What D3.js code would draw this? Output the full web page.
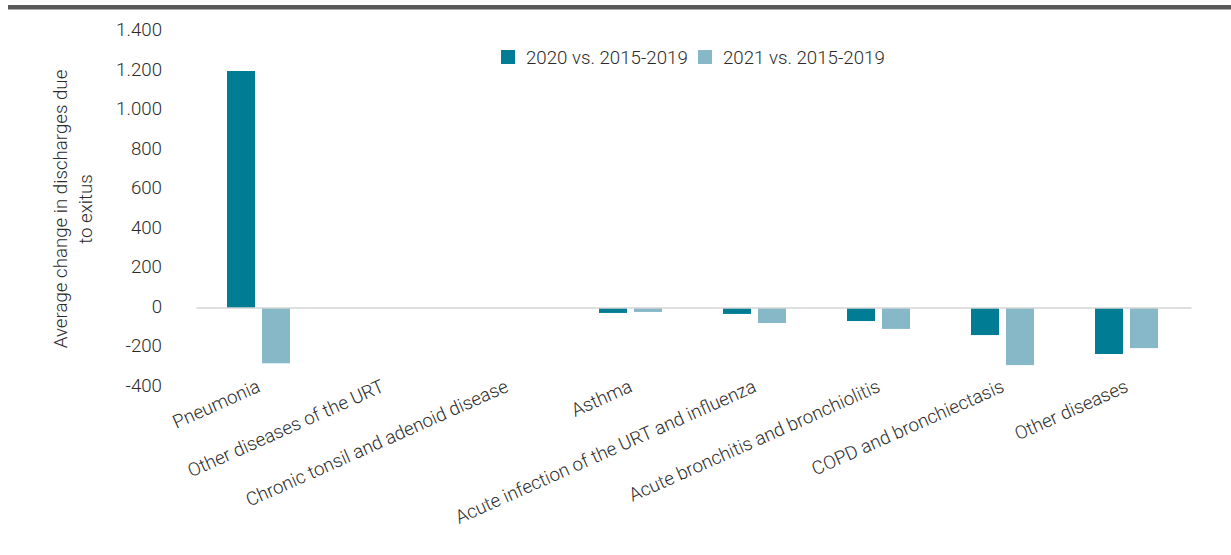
<!DOCTYPE html>
<html>
<head>
<meta charset="utf-8">
<script src="https://cdn.jsdelivr.net/npm/d3@7"></script>
<style>
  html, body { margin: 0; padding: 0; background: #fff; }
  svg { display: block; }
  text { font-family: Roboto, "Open Sans", sans-serif; font-weight: 300; fill: #2b2b2b; }
</style>
</head>
<body>
<svg id="chart" width="1231" height="555"></svg>
<script>
// Respiratory disease groups on the x axis
const categories = [
  "Pneumonia",
  "Other diseases of the URT",
  "Chronic tonsil and adenoid disease",
  "Asthma",
  "Acute infection of the URT and influenza",
  "Acute bronchitis and bronchiolitis",
  "COPD and bronchiectasis",
  "Other diseases"
];

// Average change in discharges due to exitus, by comparison period
const seriesNames = ["2020 vs. 2015-2019", "2021 vs. 2015-2019"];
const values2020 = [1200, 0, 0, -25, -30, -66, -137, -233];
const values2021 = [-280, 0, 0, -20, -76, -106, -289, -203];
const yTicks = [-400, -200, 0, 200, 400, 600, 800, 1000, 1200, 1400];
const yTitle = ["Average change in discharges due", "to exitus"];

const colors = ["#017c95", "#87b8c8"];
const fontSize = "18.7px";

const svg = d3.select("#chart");
const W = 1231;

// Dark rule along the top edge
svg.append("rect")
  .attr("x", 8).attr("y", 5)
  .attr("width", W - 8).attr("height", 4.5)
  .attr("fill", "#58595b");

const x = d3.scaleBand().domain(categories).range([196.5, 1188.5]).padding(0);
const xSub = d3.scaleBand().domain(seriesNames).range([0, 63]).paddingInner(0.2).paddingOuter(0);
const y = d3.scaleLinear().domain([-400, 1400]).range([387, 31.5]);

// Thousands separated with a dot
const fmt = v => {
  const s = d3.format(",")(v);
  return s.replace(/,/g, ".").replace("−", "-");
};

// Y axis labels (no line, no tick marks)
const yAxis = d3.axisLeft(y).tickValues(yTicks).tickSize(0).tickPadding(0).tickFormat(fmt);
const gy = svg.append("g").attr("transform", "translate(162,0)").call(yAxis);
gy.select(".domain").remove();
gy.selectAll("text")
  .attr("x", 0)
  .attr("dy", "0.22em")
  .style("font-family", "Roboto, sans-serif")
  .style("font-weight", 300)
  .style("font-size", fontSize)
  .attr("fill", "#2b2b2b");

// Y axis title, two centred lines rotated
const yt = svg.append("text")
  .attr("transform", "translate(67,209) rotate(-90)")
  .attr("text-anchor", "middle")
  .style("font-size", fontSize);
yt.selectAll("tspan").data(yTitle).join("tspan")
  .attr("x", 0)
  .attr("y", (d, i) => i * 25)
  .text(d => d);

// Bars
const rows = categories.map((c, i) => ({ cat: c, vals: [values2020[i], values2021[i]] }));
const groups = svg.append("g").selectAll("g").data(rows).join("g")
  .attr("transform", d => `translate(${x(d.cat) + x.bandwidth() / 2 - 31.5},0)`);
groups.selectAll("rect")
  .data(d => d.vals.map((v, j) => ({ key: seriesNames[j], v, j })).filter(e => e.v !== 0))
  .join("rect")
  .attr("x", d => xSub(d.key))
  .attr("width", xSub.bandwidth())
  .attr("y", d => y(Math.max(0, d.v)))
  .attr("height", d => Math.abs(y(d.v) - y(0)))
  .attr("fill", d => colors[d.j]);

// Zero baseline
svg.append("line")
  .attr("x1", 196.5).attr("x2", 1191.5)
  .attr("y1", y(0)).attr("y2", y(0))
  .attr("stroke", "#d4d4d4")
  .attr("stroke-width", 1.6);

// Rotated category labels
svg.append("g").selectAll("text").data(categories).join("text")
  .attr("transform", d => `translate(${x(d) + x.bandwidth() / 2 + 3},391) rotate(-24)`)
  .attr("text-anchor", "end")
  .style("font-size", fontSize)
  .text(d => d);

// Legend
const legend = svg.append("g");
const legendX = [501, 698];
seriesNames.forEach((name, i) => {
  legend.append("rect")
    .attr("x", legendX[i]).attr("y", 50)
    .attr("width", 14).attr("height", 14)
    .attr("fill", colors[i]);
  legend.append("text")
    .attr("x", legendX[i] + 25).attr("y", 64)
    .style("font-size", fontSize)
    .text(name);
});
</script>
</body>
</html>
